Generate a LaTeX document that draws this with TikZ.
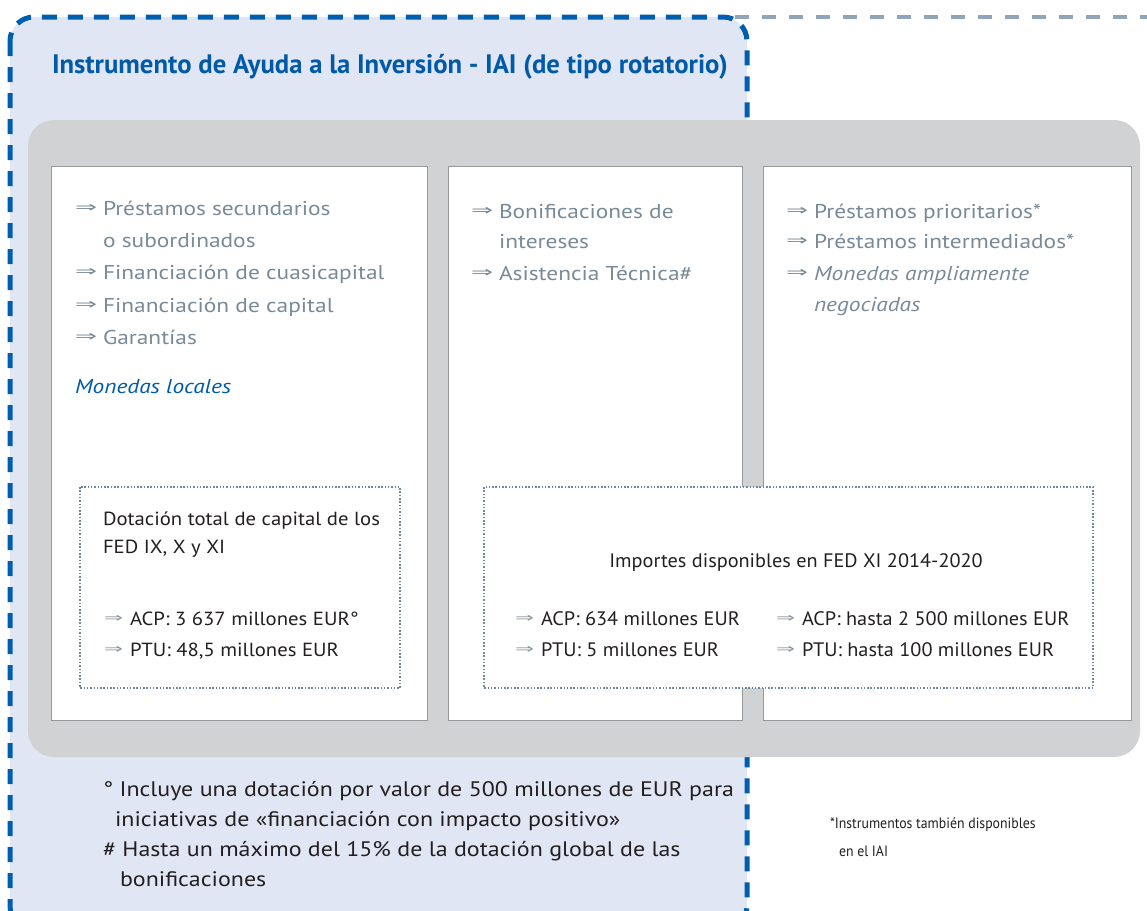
\documentclass[tikz,border=0pt]{standalone}
\usepackage{graphicx}
\usepackage{fontspec}
\setmainfont{PT Sans}
\newfontfamily\itemfont[FakeStretch=1.17]{PT Sans}
\newfontfamily\darkfont[FakeStretch=1.09]{PT Sans}
\newfontfamily\condfont[FakeStretch=1.04]{PT Sans}
\newfontfamily\footfont[FakeStretch=1.14]{PT Sans}
\newfontfamily\smallfont[FakeStretch=0.92]{PT Sans}
\newfontfamily\arrowfont{DejaVu Sans}
\definecolor{bluefill}{RGB}{224,230,244}
\definecolor{blueline}{RGB}{0,94,176}
\definecolor{titleblue}{RGB}{0,90,168}
\definecolor{greybg}{RGB}{209,210,212}
\definecolor{greydash}{RGB}{145,165,185}
\definecolor{itemgray}{RGB}{120,138,152}
\definecolor{arrowgray}{RGB}{140,150,160}
\definecolor{boxline}{RGB}{150,152,155}
\definecolor{dotline}{RGB}{115,135,155}
\definecolor{darktext}{RGB}{35,31,32}
\newcommand{\ar}{\makebox[28pt][l]{\raisebox{3pt}{\resizebox{22pt}{8pt}{\arrowfont ⇒}}}}
\newcommand{\arsm}{\makebox[26pt][l]{\raisebox{3pt}{\textcolor{arrowgray}{\resizebox{19pt}{7pt}{\arrowfont ⇒}}}}}
\tikzset{
  txt/.style={anchor=base west, inner sep=0pt, outer sep=0pt},
  item/.style={txt, text=itemgray, font=\itemfont\fontsize{20}{24}\selectfont},
  dark/.style={txt, text=darktext, font=\darkfont\fontsize{19}{23}\selectfont},
  cond/.style={txt, text=darktext, font=\condfont\fontsize{19.5}{23}\selectfont},
  foot/.style={txt, text=darktext, font=\footfont\fontsize{21}{24}\selectfont},
  whitebox/.style={fill=white, draw=boxline, line width=1pt},
  dotbox/.style={fill=white, draw=dotline, line width=1.5pt, dash pattern=on 1.5pt off 1.8pt},
}
\begin{document}
\begin{tikzpicture}[x=1pt,y=-1pt]
\useasboundingbox (0,0) rectangle (1147,910);
\clip (0,0) rectangle (1147,910);
% outer blue region
\path[fill=bluefill, rounded corners=24] (10,17) rectangle (747,930);
\draw[greydash, line width=4.5pt, dash pattern=on 14pt off 13pt] (735,17) -- (1147,17);
\draw[blueline, line width=5pt, dash pattern=on 15pt off 11pt, rounded corners=24] (10,17) rectangle (747,930);
% title
\node[txt, text=titleblue, font=\bfseries\fontsize{26.7}{30}\selectfont] (title) at (52,73) {Instrumento de Ayuda a la Inversión - IAI (de tipo rotatorio)};
% grey container
\path[fill=greybg, rounded corners=26] (28,120) rectangle (1140,757);
% white boxes
\draw[whitebox] (51,166) rectangle (427,720);
\draw[whitebox] (448,166) rectangle (742,720);
\draw[whitebox] (763,166) rectangle (1131,720);
% box 1 items
\node[item] (a1) at (75,215) {\ar Préstamos secundarios};
\node[item] (a2) at (75,247) {\hspace*{28pt}o subordinados};
\node[item] (a3) at (75,279) {\ar Financiación de cuasicapital};
\node[item] (a4) at (75,312) {\ar Financiación de capital};
\node[item] (a5) at (75,344) {\ar Garantías};
\node[item, text=titleblue, font=\itemfont\itshape\fontsize{20}{24}\selectfont] (a6) at (75,393) {Monedas locales};
% box 2 items
\node[item] (b1) at (471,218) {\ar Bonificaciones de};
\node[item] (b2) at (471,248) {\hspace*{28pt}intereses};
\node[item] (b3) at (471,280) {\ar Asistencia Técnica\#};
% box 3 items
\node[item] (c1) at (786,218) {\ar Préstamos prioritarios*};
\node[item] (c2) at (786,248) {\ar Préstamos intermediados*};
\node[item] (c3) at (786,280) {\ar\textit{Monedas ampliamente}};
\node[item] (c4) at (786,311) {\hspace*{28pt}\textit{negociadas}};
% dotted box 1
\draw[dotbox] (80,487) rectangle (400,688);
\node[dark] (d1) at (103,525) {Dotación total de capital de los};
\node[dark] (d2) at (103,553) {FED IX, X y XI};
\node[dark] (d3) at (104,625) {\arsm ACP: 3 637 millones EUR°};
\node[dark] (d4) at (104,656) {\arsm PTU: 48,5 millones EUR};
% dotted box 2
\draw[dotbox] (484,487) rectangle (1093,688);
\node[cond, anchor=base] (e0) at (796,567) {Importes disponibles en FED XI 2014-2020};
\node[cond] (e1) at (515,625) {\arsm ACP: 634 millones EUR};
\node[cond] (e2) at (515,656) {\arsm PTU: 5 millones EUR};
\node[cond] (e3) at (776,625) {\arsm ACP: hasta 2 500 millones EUR};
\node[cond] (e4) at (776,656) {\arsm PTU: hasta 100 millones EUR};
% footnotes
\node[foot] (f1) at (103,796) {° Incluye una dotación por valor de 500 millones de EUR para};
\node[foot] (f2) at (115,826) {iniciativas de «financiación con impacto positivo»};
\node[foot] (f3) at (103,856) {\# Hasta un máximo del 15\% de la dotación global de las};
\node[foot] (f4) at (120,886) {bonificaciones};
\node[txt, text=darktext, font=\smallfont\fontsize{15}{18}\selectfont] (g1) at (830,828) {*Instrumentos también disponibles};
\node[txt, text=darktext, font=\smallfont\fontsize{15}{18}\selectfont] (g2) at (839,856) {en el IAI};
\end{tikzpicture}
\end{document}
